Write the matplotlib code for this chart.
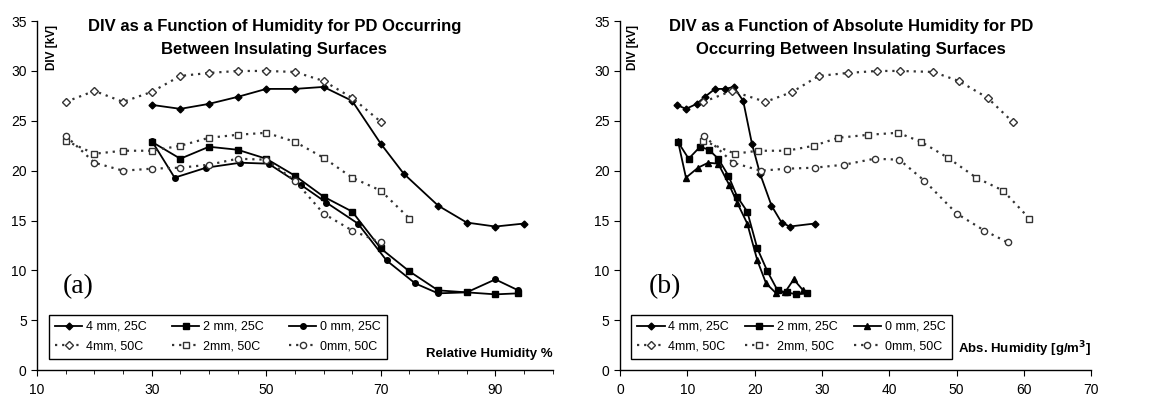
import matplotlib.pyplot as plt
from matplotlib.ticker import MultipleLocator

plt.rcParams['font.family'] = ['Liberation Sans', 'DejaVu Sans']

# DIV values [kV], shared by both panels
div_4mm_25 = [26.6, 26.2, 26.7, 27.4, 28.2, 28.2, 28.4, 27.0, 22.7, 19.7, 16.5, 14.8, 14.4, 14.7]
div_2mm_25 = [22.9, 21.2, 22.4, 22.1, 21.2, 19.5, 17.4, 15.9, 12.2, 9.9, 8.0, 7.8, 7.6, 7.7]
div_0mm_25 = [23.0, 19.3, 20.3, 20.8, 20.7, 18.6, 16.8, 14.7, 11.0, 8.7, 7.7, 7.8, 9.1, 8.0]
div_4mm_50 = [26.9, 28.0, 26.9, 27.9, 29.5, 29.8, 30.0, 30.0, 29.9, 29.0, 27.3, 24.9]
div_2mm_50 = [23.0, 21.7, 22.0, 22.0, 22.5, 23.3, 23.6, 23.8, 22.9, 21.3, 19.3, 18.0, 15.2]
div_0mm_50 = [23.5, 20.8, 20.0, 20.2, 20.3, 20.6, 21.2, 21.1, 19.0, 15.7, 14.0, 12.8]

# relative humidity [%]
rh_4mm_25 = [30, 35, 40, 45, 50, 55, 60, 65, 70, 74, 80, 85, 90, 95]
rh_2mm_25 = [30, 35, 40, 45, 50, 55, 60, 65, 70, 75, 80, 85, 90, 94]
rh_0mm_25 = [30, 34, 39.5, 45.5, 50.4, 56, 60.5, 66, 71, 76, 80, 85, 90, 94]
rh_4mm_50 = [15, 20, 25, 30, 35, 40, 45, 50, 55, 60, 65, 70]
rh_2mm_50 = [15, 20, 25, 30, 35, 40, 45, 50, 55, 60, 65, 70, 75]
rh_0mm_50 = [15, 20, 25, 30, 35, 40, 45, 50, 55, 60, 65, 70]

# absolute humidity [g/m3]
ah_4mm_25 = [8.4, 9.8, 11.4, 12.6, 14.1, 15.6, 16.9, 18.3, 19.6, 20.8, 22.5, 24.0, 25.2, 28.9]
ah_2mm_25 = [8.6, 10.2, 11.9, 13.2, 14.6, 16.1, 17.4, 18.9, 20.4, 21.9, 23.4, 24.8, 26.2, 27.8]
ah_0mm_25 = [8.6, 9.8, 11.6, 13.1, 14.6, 16.2, 17.4, 18.9, 20.4, 21.7, 23.2, 24.5, 25.8, 27.2]
ah_4mm_50 = [12.4, 16.6, 21.6, 25.6, 29.5, 33.8, 38.2, 41.6, 46.5, 50.3, 54.6, 58.3]
ah_2mm_50 = [12.4, 17.1, 20.5, 24.8, 28.8, 32.4, 36.9, 41.3, 44.7, 48.7, 52.9, 56.9, 60.8]
ah_0mm_50 = [12.5, 16.8, 20.9, 24.8, 28.9, 33.3, 37.8, 41.5, 45.2, 50.0, 54.1, 57.6]

labels = ['4 mm, 25C', '2 mm, 25C', '0 mm, 25C', '4mm, 50C', '2mm, 50C', '0mm, 50C']

fig = plt.figure(figsize=(11.61, 3.98), dpi=100)
ax1 = fig.add_axes([0.032, 0.070, 0.444, 0.877])
ax2 = fig.add_axes([0.534, 0.070, 0.406, 0.877])


def draw_panel(ax, xs, zero_marker, colspace):
    solid = dict(color='black', lw=1.3, ms=4, mfc='black', mec='black')
    dotted = dict(color='#333333', lw=1.6, ls=(0, (1, 2.2)), ms=4.5, mfc='white', mec='#333333', mew=1)
    h = []
    h += ax.plot(xs[0], div_4mm_25, marker='D', **dict(solid, ms=3.5))
    h += ax.plot(xs[1], div_2mm_25, marker='s', **solid)
    h += ax.plot(xs[2], div_0mm_25, marker=zero_marker, **solid)
    h += ax.plot(xs[3], div_4mm_50, marker='D', **dict(dotted, ms=4))
    h += ax.plot(xs[4], div_2mm_50, marker='s', **dotted)
    h += ax.plot(xs[5], div_0mm_50, marker='o', **dotted)
    order = [0, 3, 1, 4, 2, 5]
    leg = ax.legend([h[i] for i in order], [labels[i] for i in order], ncol=3,
                    loc='lower left', bbox_to_anchor=(0.01, 0.015), fontsize=9,
                    frameon=True, fancybox=False, edgecolor='black', framealpha=1,
                    handlelength=2.2, handletextpad=0.3, columnspacing=colspace,
                    borderpad=0.5, labelspacing=0.6)
    leg.get_frame().set_linewidth(1.0)

    ax.set_ylim(0, 35)
    ax.yaxis.set_major_locator(MultipleLocator(5))
    for s in ['top', 'right']:
        ax.spines[s].set_visible(False)
    for s in ['left', 'bottom']:
        ax.spines[s].set_linewidth(1.0)
    ax.tick_params(axis='both', which='both', direction='out', labelsize=10)
    ax.tick_params(axis='y', length=4)
    ax.tick_params(axis='x', which='major', length=4, pad=5)
    ax.tick_params(axis='x', which='minor', length=3)
    ax.text(0.028, 0.99, 'DIV [kV]', transform=ax.transAxes, rotation=90,
            ha='center', va='top', fontsize=8.5, fontweight='bold')


draw_panel(ax1, [rh_4mm_25, rh_2mm_25, rh_0mm_25, rh_4mm_50, rh_2mm_50, rh_0mm_50], 'o', 2.0)
ax1.set_xlim(10, 100)
ax1.set_xticks([10, 30, 50, 70, 90])
ax1.xaxis.set_minor_locator(MultipleLocator(5))
ax1.text(0.46, 1.005, 'DIV as a Function of Humidity for PD Occurring\nBetween Insulating Surfaces',
         transform=ax1.transAxes, ha='center', va='top', fontsize=12, fontweight='bold', linespacing=1.6)
ax1.text(1.0, 0.045, 'Relative Humidity %', transform=ax1.transAxes, ha='right', va='center',
         fontsize=9.5, fontweight='bold')
ax1.text(0.05, 0.24, '(a)', transform=ax1.transAxes, ha='left', va='center',
         fontsize=20, family=['Liberation Serif', 'DejaVu Serif'])

draw_panel(ax2, [ah_4mm_25, ah_2mm_25, ah_0mm_25, ah_4mm_50, ah_2mm_50, ah_0mm_50], '^', 1.3)
ax2.set_xlim(0, 70)
ax2.xaxis.set_major_locator(MultipleLocator(10))
ax2.text(0.49, 1.005, 'DIV as a Function of Absolute Humidity for PD\nOccurring Between Insulating Surfaces',
         transform=ax2.transAxes, ha='center', va='top', fontsize=12, fontweight='bold', linespacing=1.6)
ax2.text(1.0, 0.06, 'Abs. Humidity [g/m$^\\mathbf{3}$]', transform=ax2.transAxes, ha='right', va='center',
         fontsize=9.5, fontweight='bold')
ax2.text(0.06, 0.24, '(b)', transform=ax2.transAxes, ha='left', va='center',
         fontsize=20, family=['Liberation Serif', 'DejaVu Serif'])

fig.savefig('out.png', dpi=100)
